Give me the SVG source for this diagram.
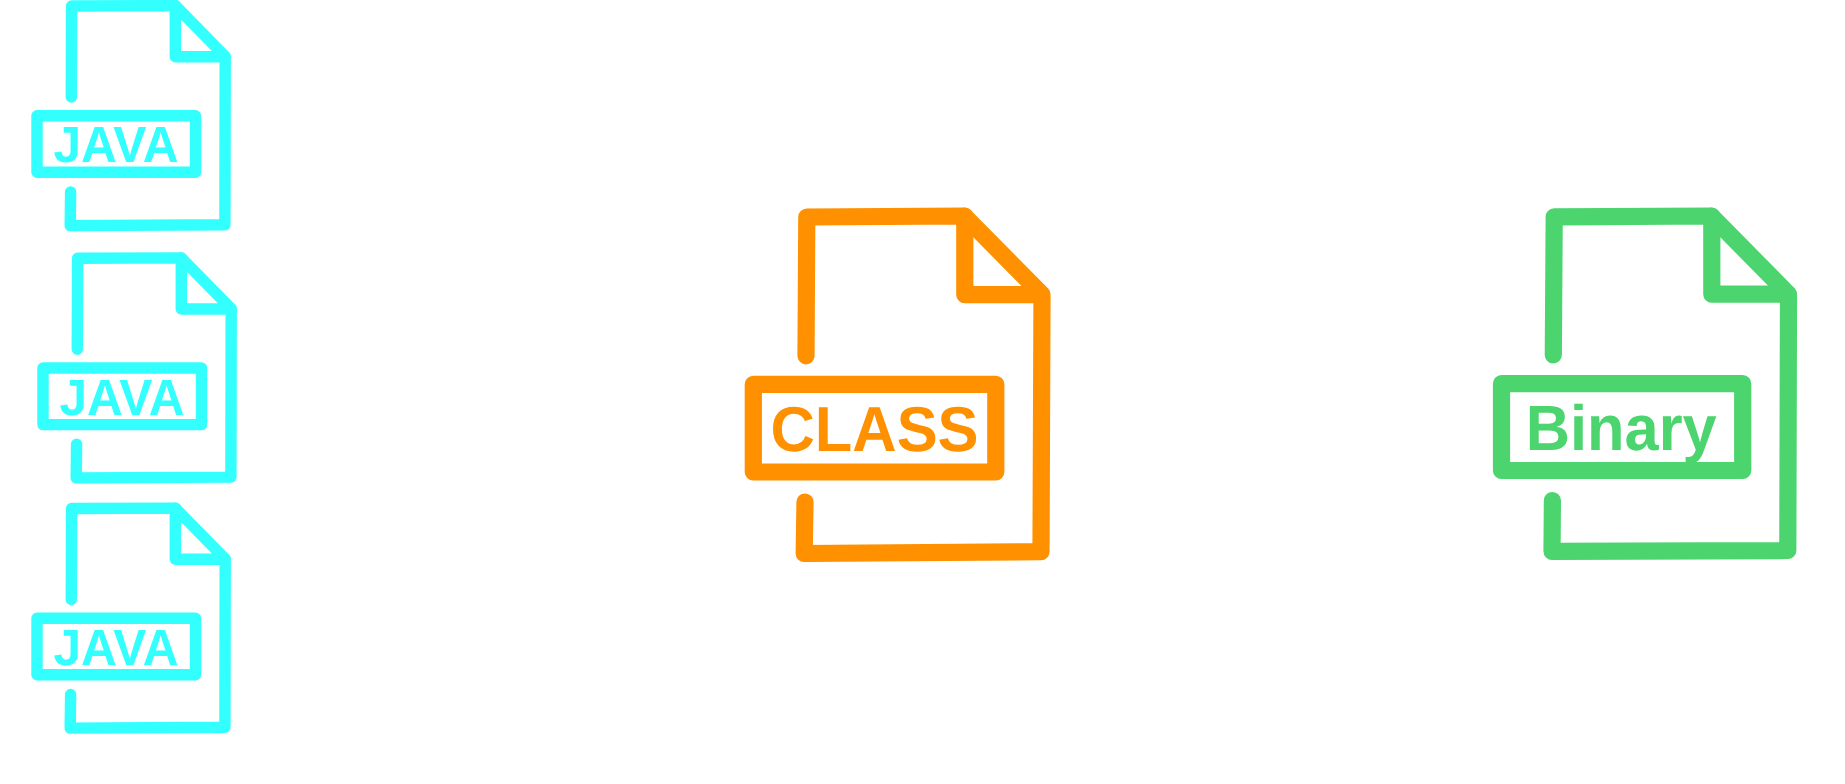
<svg xmlns="http://www.w3.org/2000/svg" width="1845" height="784" viewBox="0 0 1845 784">
<style>
.s{fill:none;stroke-linecap:round;stroke-linejoin:round}
.j{stroke:#33ffff;stroke-width:11.4}
.c{stroke:#ff9000;stroke-width:17.2}
.b{stroke:#4cd46f;stroke-width:17.2}
text{font-family:"Liberation Sans",Arial,sans-serif;font-weight:700;text-rendering:geometricPrecision}
.jt{fill:#33ffff;font-size:51px}
</style>
<rect width="1845" height="784" fill="#fff"/>
<defs>
<g id="java">
<path class="s j" d="M71.3 97L71.6 6L175.3 5.6L225.2 56.5L224.9 224.8L70.2 225.6L70.6 192"/>
<path class="s j" d="M225 56.7H175.3V5.6"/>
<rect class="s j" x="37" y="115.7" width="158.5" height="56.6"/>
<text class="jt" x="53.5" y="162.4" textLength="125" lengthAdjust="spacingAndGlyphs">JAVA</text>
</g>
</defs>
<g id="java1"><use href="#java"/></g>
<g id="java2"><use href="#java" x="6" y="252.3"/></g>
<g id="java3"><use href="#java" y="502.5"/></g>
<g id="class">
<path class="s c" d="M806 355.8L806.8 217L964.4 216L1042 294.5L1041 551.7L804.2 553.5L805 502"/>
<path class="s c" d="M1041.5 294.7H964.8V216"/>
<rect class="s c" x="753.3" y="384.3" width="242.5" height="87.7"/>
<text x="770.5" y="450.7" font-size="63.5" fill="#ff9000" textLength="208" lengthAdjust="spacingAndGlyphs">CLASS</text>
</g>
<g id="binary">
<path class="s b" d="M1553.3 355L1554.2 216.8L1711.4 216L1788.5 294.2L1787.8 550.5L1552 551.3L1552.4 500.5"/>
<path class="s b" d="M1788 294.2H1711.8V216"/>
<rect class="s b" x="1501.5" y="383.7" width="241.2" height="86.8"/>
<text x="1525.7" y="450" font-size="64" fill="#4cd46f" textLength="191" lengthAdjust="spacingAndGlyphs">Binary</text>
</g>
</svg>
